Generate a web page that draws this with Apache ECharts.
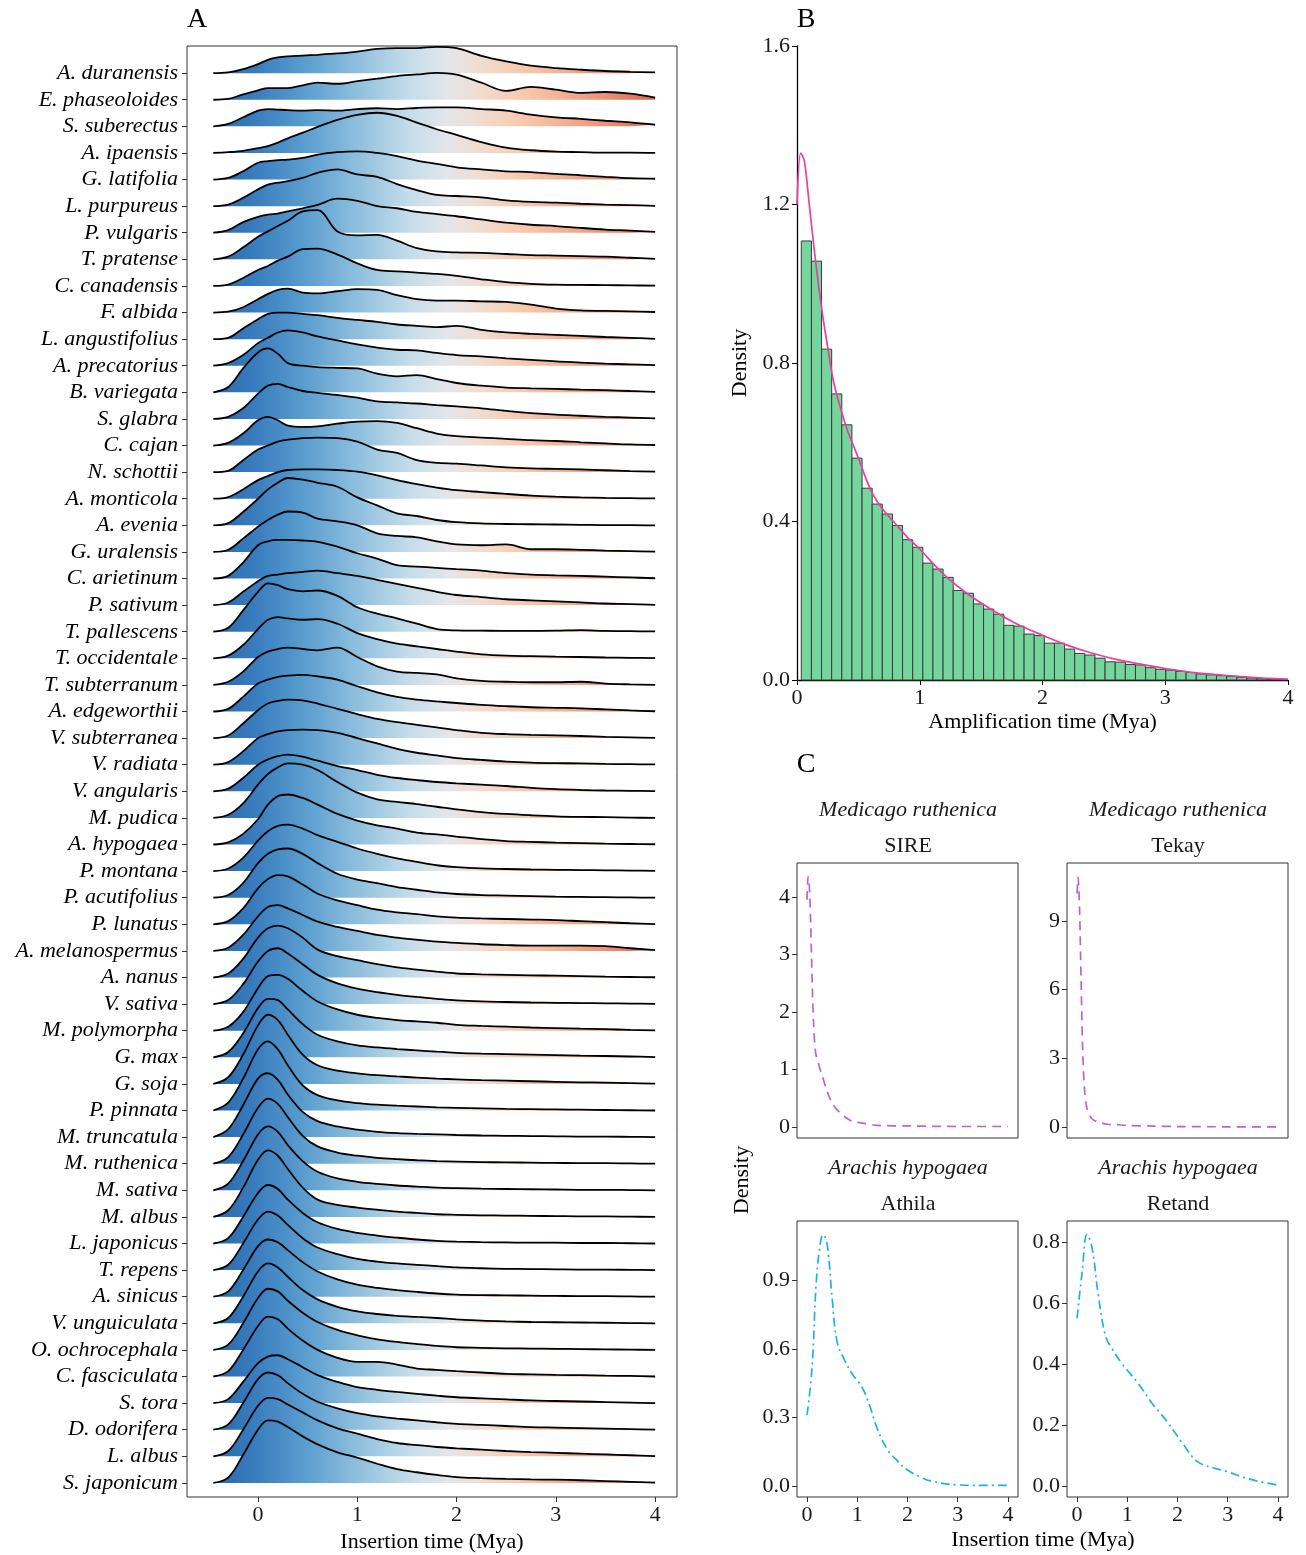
<!DOCTYPE html>
<html>
<head>
<meta charset="utf-8">
<script src="https://cdn.jsdelivr.net/npm/echarts@6/dist/echarts.min.js"></script>
<style>
html,body{margin:0;padding:0;background:#fff}
#main{width:1306px;height:1555px}
</style>
</head>
<body>
<div id="main"></div>
<script>
var FONT = '"Liberation Serif","DejaVu Serif",serif';

// ---- panel A : ridgeline data (top row first) ----
var species = ['A. duranensis','E. phaseoloides','S. suberectus','A. ipaensis','G. latifolia','L. purpureus',
  'P. vulgaris','T. pratense','C. canadensis','F. albida','L. angustifolius','A. precatorius','B. variegata',
  'S. glabra','C. cajan','N. schottii','A. monticola','A. evenia','G. uralensis','C. arietinum','P. sativum',
  'T. pallescens','T. occidentale','T. subterranum','A. edgeworthii','V. subterranea','V. radiata',
  'V. angularis','M. pudica','A. hypogaea','P. montana','P. acutifolius','P. lunatus','A. melanospermus',
  'A. nanus','V. sativa','M. polymorpha','G. max','G. soja','P. pinnata','M. truncatula','M. ruthenica',
  'M. sativa','M. albus','L. japonicus','T. repens','A. sinicus','V. unguiculata','O. ochrocephala',
  'C. fasciculata','S. tora','D. odorifera','L. albus','S. japonicum'];

var ridgeX = [-0.45,-0.3,-0.15,0,0.1,0.2,0.3,0.45,0.6,0.8,1,1.2,1.4,1.6,1.8,2,2.25,2.5,2.75,3,3.25,3.5,3.75,4];

// scaled density (in rows) at ridgeX, one line per species
var ridgeH = [
  [0,0.03,0.15,0.34,0.5,0.59,0.63,0.66,0.69,0.74,0.81,0.91,0.94,0.94,0.99,0.94,0.65,0.44,0.28,0.19,0.13,0.08,0.05,0.03],
  [0,0.03,0.2,0.35,0.44,0.44,0.44,0.54,0.64,0.6,0.7,0.79,0.89,0.95,1.01,0.94,0.64,0.33,0.48,0.38,0.26,0.29,0.23,0.08],
  [0,0.09,0.34,0.59,0.65,0.63,0.61,0.59,0.61,0.59,0.65,0.68,0.65,0.69,0.71,0.71,0.65,0.59,0.44,0.34,0.28,0.21,0.15,0.06],
  [0,0.03,0.08,0.18,0.26,0.39,0.55,0.76,0.98,1.24,1.43,1.51,1.39,1.14,0.89,0.68,0.41,0.2,0.1,0.05,0.03,0.01,0.01,0],
  [0,0.06,0.31,0.63,0.69,0.73,0.75,0.81,0.94,1.03,1.06,1.0,0.88,0.71,0.59,0.46,0.38,0.31,0.28,0.21,0.16,0.1,0.05,0.03],
  [0,0.06,0.31,0.63,0.81,0.88,0.94,1.06,1.25,1.38,1.19,1.1,0.83,0.6,0.42,0.38,0.33,0.22,0.16,0.13,0.09,0.06,0.04,0.01],
  [0,0.1,0.4,0.6,0.68,0.72,0.8,0.92,1.05,1.28,1.2,1.0,0.92,0.78,0.7,0.62,0.5,0.38,0.3,0.25,0.18,0.12,0.08,0.03],
  [0,0.1,0.45,0.85,1.05,1.25,1.45,1.8,1.85,1.05,0.9,0.92,0.7,0.42,0.3,0.26,0.24,0.2,0.16,0.14,0.12,0.1,0.06,0.02],
  [0,0.05,0.3,0.6,0.75,0.95,1.1,1.38,1.4,1.18,0.85,0.6,0.55,0.5,0.45,0.38,0.25,0.14,0.08,0.05,0.04,0.03,0.02,0.01],
  [0,0.03,0.2,0.5,0.7,0.85,0.9,0.75,0.72,0.8,0.88,0.85,0.65,0.5,0.45,0.45,0.42,0.4,0.3,0.15,0.08,0.06,0.04,0.02],
  [0,0.05,0.4,0.75,0.95,1.0,1.0,0.95,0.9,0.8,0.72,0.65,0.55,0.5,0.45,0.5,0.35,0.25,0.2,0.16,0.12,0.08,0.05,0.01],
  [0,0.1,0.4,0.85,1.05,1.25,1.33,1.25,1.1,0.95,0.8,0.68,0.6,0.58,0.48,0.4,0.35,0.28,0.22,0.16,0.12,0.08,0.05,0.02],
  [0,0.2,0.9,1.5,1.65,1.45,1.1,1.0,0.95,0.92,0.9,0.7,0.6,0.65,0.5,0.35,0.25,0.18,0.15,0.13,0.1,0.08,0.05,0.02],
  [0,0.08,0.4,0.95,1.25,1.32,1.2,1.05,0.98,0.9,0.8,0.66,0.62,0.58,0.52,0.47,0.4,0.3,0.22,0.16,0.12,0.08,0.05,0.02],
  [0,0.1,0.45,0.95,1.08,0.95,0.75,0.7,0.72,0.82,0.9,0.92,0.85,0.65,0.45,0.35,0.3,0.25,0.2,0.17,0.12,0.08,0.04,0.02],
  [0,0.05,0.45,0.85,1.0,1.15,1.22,1.28,1.3,1.28,1.15,0.85,0.72,0.45,0.35,0.32,0.25,0.18,0.14,0.12,0.1,0.07,0.04,0.02],
  [0,0.06,0.35,0.7,0.85,1.0,1.08,1.1,1.1,1.08,1.02,0.88,0.7,0.55,0.42,0.32,0.25,0.18,0.12,0.08,0.05,0.03,0.02,0.01],
  [0,0.08,0.5,1.0,1.35,1.6,1.78,1.72,1.6,1.45,1.05,0.75,0.45,0.35,0.2,0.12,0.07,0.05,0.04,0.03,0.02,0.01,0.01,0],
  [0,0.08,0.5,0.95,1.2,1.4,1.52,1.48,1.25,1.15,1.0,0.7,0.6,0.55,0.4,0.28,0.25,0.28,0.1,0.1,0.08,0.05,0.03,0.01],
  [0,0.1,0.6,1.25,1.4,1.45,1.45,1.43,1.38,1.2,0.95,0.75,0.5,0.45,0.4,0.35,0.3,0.2,0.15,0.12,0.1,0.07,0.04,0.01],
  [0,0.1,0.5,0.9,1.1,1.15,1.2,1.25,1.3,1.2,1.1,0.95,0.8,0.65,0.5,0.38,0.3,0.22,0.18,0.14,0.1,0.06,0.04,0.01],
  [0,0.15,0.8,1.5,1.82,1.75,1.6,1.52,1.55,1.35,0.92,0.68,0.5,0.3,0.1,0.05,0.04,0.03,0.03,0.04,0.06,0.03,0.02,0.01],
  [0,0.1,0.5,1.1,1.45,1.55,1.5,1.45,1.47,1.3,0.95,0.72,0.55,0.45,0.35,0.25,0.15,0.1,0.08,0.06,0.05,0.03,0.02,0.01],
  [0,0.12,0.5,1.05,1.25,1.35,1.4,1.35,1.3,1.4,1.05,0.7,0.5,0.45,0.4,0.25,0.15,0.12,0.1,0.1,0.12,0.05,0.02,0],
  [0,0.1,0.55,1.05,1.2,1.3,1.35,1.38,1.32,1.2,0.95,0.72,0.55,0.45,0.38,0.32,0.25,0.2,0.16,0.14,0.12,0.08,0.04,0.01],
  [0,0.1,0.55,1.05,1.3,1.4,1.45,1.42,1.3,1.1,0.9,0.72,0.6,0.5,0.4,0.3,0.2,0.15,0.12,0.1,0.08,0.05,0.03,0.01],
  [0,0.1,0.5,1.0,1.15,1.25,1.3,1.32,1.3,1.2,1.0,0.8,0.6,0.45,0.35,0.25,0.18,0.12,0.08,0.06,0.05,0.03,0.02,0.01],
  [0,0.1,0.5,1.0,1.2,1.32,1.38,1.3,1.15,0.95,0.8,0.62,0.5,0.42,0.35,0.3,0.25,0.2,0.13,0.08,0.05,0.03,0.02,0.01],
  [0,0.12,0.55,1.25,1.65,1.9,2.05,2.0,1.8,1.35,0.95,0.7,0.6,0.52,0.42,0.32,0.22,0.15,0.1,0.06,0.04,0.03,0.01,0],
  [0,0.08,0.4,0.95,1.5,1.82,1.88,1.75,1.5,1.15,0.9,0.72,0.6,0.45,0.38,0.3,0.2,0.13,0.1,0.07,0.05,0.03,0.02,0.01],
  [0,0.1,0.5,1.15,1.5,1.7,1.75,1.6,1.35,1.1,0.85,0.65,0.48,0.35,0.22,0.15,0.1,0.08,0.06,0.05,0.04,0.03,0.02,0.01],
  [0,0.1,0.55,1.3,1.65,1.82,1.85,1.65,1.3,0.9,0.68,0.55,0.4,0.3,0.2,0.14,0.1,0.08,0.06,0.04,0.03,0.02,0.01,0],
  [0,0.12,0.6,1.35,1.7,1.85,1.8,1.5,1.15,0.9,0.72,0.55,0.45,0.38,0.3,0.25,0.22,0.2,0.18,0.16,0.12,0.08,0.04,0.01],
  [0,0.12,0.6,1.3,1.65,1.72,1.6,1.35,1.1,0.9,0.75,0.6,0.5,0.42,0.35,0.3,0.25,0.22,0.2,0.2,0.2,0.18,0.1,0.03],
  [0,0.15,0.7,1.5,1.85,1.95,1.85,1.5,1.05,0.8,0.65,0.5,0.38,0.3,0.22,0.15,0.12,0.1,0.08,0.07,0.05,0.03,0.02,0.01],
  [0,0.15,0.75,1.6,2.0,2.1,1.9,1.5,1.1,0.78,0.58,0.45,0.35,0.27,0.2,0.14,0.1,0.08,0.06,0.05,0.04,0.03,0.02,0.01],
  [0,0.15,0.7,1.6,2.05,2.1,1.95,1.5,1.1,0.8,0.6,0.48,0.4,0.35,0.3,0.22,0.18,0.15,0.12,0.1,0.08,0.06,0.03,0.01],
  [0,0.2,0.9,1.85,2.2,2.15,1.8,1.25,0.85,0.6,0.45,0.37,0.31,0.26,0.21,0.17,0.14,0.12,0.1,0.08,0.06,0.05,0.03,0.01],
  [0,0.25,1.1,2.2,2.6,2.4,1.85,1.1,0.7,0.5,0.4,0.33,0.28,0.24,0.2,0.17,0.14,0.12,0.1,0.08,0.06,0.05,0.03,0.01],
  [0,0.3,1.2,2.3,2.6,2.3,1.7,0.95,0.58,0.38,0.28,0.22,0.18,0.15,0.12,0.1,0.08,0.06,0.05,0.04,0.03,0.02,0.01,0],
  [0,0.3,1.2,2.2,2.4,2.15,1.6,0.95,0.6,0.4,0.28,0.2,0.15,0.12,0.1,0.08,0.06,0.05,0.04,0.03,0.02,0.02,0.01,0],
  [0,0.25,1.1,2.1,2.45,2.25,1.75,1.05,0.65,0.42,0.3,0.22,0.17,0.13,0.1,0.08,0.06,0.05,0.04,0.03,0.02,0.02,0.01,0],
  [0,0.25,1.1,2.1,2.4,2.2,1.7,1.1,0.7,0.45,0.32,0.24,0.18,0.14,0.1,0.08,0.06,0.05,0.04,0.03,0.02,0.02,0.01,0],
  [0,0.25,1.1,2.15,2.5,2.3,1.8,1.1,0.65,0.45,0.35,0.27,0.2,0.15,0.1,0.08,0.06,0.05,0.04,0.03,0.02,0.02,0.01,0],
  [0,0.2,1.0,1.9,2.2,2.05,1.65,1.15,0.8,0.55,0.4,0.3,0.22,0.15,0.1,0.07,0.05,0.04,0.03,0.03,0.02,0.02,0.01,0],
  [0,0.2,1.0,1.9,2.2,2.05,1.7,1.2,0.85,0.6,0.42,0.32,0.25,0.2,0.15,0.1,0.07,0.05,0.04,0.03,0.02,0.02,0.01,0],
  [0,0.2,1.0,1.9,2.15,2.05,1.75,1.3,0.95,0.65,0.45,0.33,0.25,0.18,0.12,0.08,0.06,0.05,0.04,0.03,0.02,0.02,0.01,0],
  [0,0.2,1.0,1.95,2.25,2.1,1.75,1.25,0.9,0.62,0.45,0.35,0.28,0.24,0.2,0.15,0.1,0.07,0.05,0.04,0.03,0.02,0.01,0],
  [0,0.2,1.0,1.95,2.3,2.2,1.85,1.4,1.05,0.75,0.55,0.4,0.3,0.22,0.15,0.1,0.08,0.06,0.05,0.04,0.03,0.02,0.01,0],
  [0,0.2,1.0,1.9,2.25,2.15,1.8,1.35,1.0,0.7,0.55,0.55,0.45,0.3,0.25,0.2,0.15,0.1,0.08,0.06,0.05,0.03,0.02,0],
  [0,0.15,0.8,1.5,1.75,1.8,1.65,1.35,1.05,0.8,0.6,0.5,0.42,0.35,0.28,0.22,0.18,0.14,0.1,0.08,0.06,0.04,0.02,0],
  [0,0.2,1.0,1.9,2.15,2.05,1.75,1.35,1.05,0.8,0.62,0.5,0.42,0.35,0.28,0.22,0.18,0.14,0.1,0.08,0.06,0.04,0.02,0],
  [0,0.2,1.0,1.9,2.2,2.15,1.95,1.65,1.35,1.05,0.85,0.65,0.5,0.42,0.35,0.3,0.25,0.2,0.16,0.13,0.1,0.07,0.04,0.01],
  [0,0.2,1.05,2.0,2.35,2.3,2.1,1.75,1.45,1.15,0.95,0.72,0.52,0.4,0.3,0.22,0.18,0.15,0.13,0.12,0.1,0.07,0.04,0.01]
];

// ---- panel B : histogram + density ----
var histStart = 0.035, histWidth = 0.0825;
var histDensity = [1.108,1.057,0.835,0.722,0.644,0.56,0.484,0.444,0.419,0.39,0.354,0.335,0.295,0.28,0.259,0.226,
  0.219,0.192,0.179,0.166,0.138,0.136,0.116,0.112,0.093,0.093,0.078,0.067,0.063,0.055,0.046,0.045,0.039,0.038,
  0.031,0.027,0.025,0.022,0.019,0.015,0.013,0.011,0.009,0.007,0.005,0.003,0.002,0.001];
var fitX = [0,0.03,0.06,0.1,0.15,0.2,0.25,0.3,0.4,0.5,0.6,0.7,0.8,0.9,1,1.2,1.4,1.6,1.8,2,2.2,2.4,2.6,2.8,3,3.2,3.4,3.6,3.8,4];
var fitY = [1.2,1.33,1.31,1.2,1.06,0.94,0.84,0.75,0.64,0.56,0.48,0.43,0.395,0.36,0.33,0.265,0.215,0.175,0.14,0.113,0.088,0.068,0.052,0.04,0.029,0.02,0.014,0.009,0.005,0.002];

// ---- panel C : four TE families ----
var sireX = [0,0.02,0.04,0.07,0.1,0.13,0.17,0.22,0.3,0.4,0.5,0.6,0.75,0.9,1.1,1.4,2,3,4];
var sireY = [3.95,4.35,4.3,3.6,2.6,1.8,1.3,1.12,0.9,0.62,0.42,0.3,0.18,0.1,0.07,0.03,0.02,0.01,0.01];
var tekayX = [0,0.02,0.05,0.08,0.11,0.15,0.2,0.3,0.45,0.6,0.8,1,1.5,2,3,4];
var tekayY = [10.2,10.9,9.5,6.5,3.5,1.6,0.8,0.35,0.2,0.12,0.1,0.07,0.04,0.02,0.01,0.01];
var athilaX = [0,0.1,0.18,0.25,0.32,0.4,0.5,0.6,0.75,0.9,1.1,1.25,1.4,1.6,1.8,2,2.25,2.5,3,3.5,4];
var athilaY = [0.31,0.52,0.88,1.04,1.1,1.06,0.82,0.63,0.55,0.49,0.43,0.35,0.25,0.16,0.11,0.07,0.04,0.02,0.005,0.003,0.003];
var retandX = [0,0.1,0.2,0.3,0.42,0.57,0.7,0.9,1.2,1.5,1.8,2.1,2.4,2.75,3,3.25,3.6,4];
var retandY = [0.55,0.7,0.825,0.78,0.63,0.49,0.45,0.4,0.34,0.27,0.21,0.14,0.08,0.058,0.047,0.032,0.016,0.003];

function pairs(xs, ys) {
  return xs.map(function (x, k) { return [x, ys[k]]; });
}

var chart = echarts.init(document.getElementById('main'));

// panel A layout
var aLeft = 187, aWidth = 490, aXmin = -0.715, aXmax = 4.22;
function aPx(x) { return aLeft + (x - aXmin) / (aXmax - aXmin) * aWidth; }
var ridgeFill = new echarts.graphic.LinearGradient(aPx(-0.45), 0, aPx(4), 0, [
  { offset: 0, color: '#2a68ab' },
  { offset: 0.10, color: '#3a7ebf' },
  { offset: 0.21, color: '#5b9ecf' },
  { offset: 0.33, color: '#90c0de' },
  { offset: 0.44, color: '#c2dcea' },
  { offset: 0.53, color: '#e3e6ea' },
  { offset: 0.60, color: '#f0ddd2' },
  { offset: 0.69, color: '#f8cbb1' },
  { offset: 0.775, color: '#f4b597' },
  { offset: 0.89, color: '#eb9274' },
  { offset: 1, color: '#d8634e' }
], true);

var nRow = species.length;
var rowIdx = species.map(function (s, i) { return i; });

var series = [];
species.forEach(function (name, i) {
  var base = nRow - 1 - i;
  series.push({
    type: 'line', xAxisIndex: 0, yAxisIndex: 0, name: name,
    data: ridgeX.map(function (x, j) { return [x, base + ridgeH[i][j]]; }),
    smooth: 0.35, showSymbol: false, silent: true,
    lineStyle: { color: '#000', width: 1.8 },
    areaStyle: { color: ridgeFill, opacity: 1, origin: base },
    z: 2 + i
  });
});

// histogram
series.push({
  type: 'custom', xAxisIndex: 1, yAxisIndex: 1, silent: true, z: 2,
  data: histDensity.map(function (d, k) {
    return [histStart + k * histWidth, histStart + (k + 1) * histWidth, d];
  }),
  encode: { x: [0, 1], y: 2 },
  renderItem: function (params, api) {
    var p0 = api.coord([api.value(0), api.value(2)]);
    var p1 = api.coord([api.value(1), 0]);
    return {
      type: 'rect',
      shape: { x: p0[0], y: p0[1], width: p1[0] - p0[0], height: p1[1] - p0[1] },
      style: { fill: '#74d69d', stroke: '#3b3b3b', lineWidth: 1 }
    };
  }
});
series.push({
  type: 'line', xAxisIndex: 1, yAxisIndex: 1, data: pairs(fitX, fitY), smooth: 0.3,
  showSymbol: false, silent: true, lineStyle: { color: '#e8409f', width: 1.7 }, z: 5
});

var purple = '#bb62d8', cyan = '#1fb1e2';
series.push({ type: 'line', xAxisIndex: 2, yAxisIndex: 2, data: pairs(sireX, sireY), smooth: 0.3, showSymbol: false,
  lineStyle: { color: purple, width: 1.7, type: [9, 6] } });
series.push({ type: 'line', xAxisIndex: 3, yAxisIndex: 3, data: pairs(tekayX, tekayY), smooth: 0.3, showSymbol: false,
  lineStyle: { color: purple, width: 1.7, type: [9, 6] } });
series.push({ type: 'line', xAxisIndex: 4, yAxisIndex: 4, data: pairs(athilaX, athilaY), smooth: 0.4, showSymbol: false,
  lineStyle: { color: cyan, width: 1.7, type: [9, 4, 2, 4] } });
series.push({ type: 'line', xAxisIndex: 5, yAxisIndex: 5, data: pairs(retandX, retandY), smooth: 0.4, showSymbol: false,
  lineStyle: { color: cyan, width: 1.7, type: [9, 4, 2, 4] } });

var FS = 22;
var tickFont = { fontFamily: FONT, fontSize: FS, color: '#1a1a1a' };
var nameFont = { fontFamily: FONT, fontSize: FS, color: '#000' };

function cX(gi, showLabels) {
  return {
    type: 'value', gridIndex: gi, min: -0.2, max: 4.2,
    axisLine: { show: false, onZero: false }, splitLine: { show: false },
    axisTick: { show: showLabels, customValues: [0, 1, 2, 3, 4], length: 5, lineStyle: { color: '#333' } },
    axisLabel: Object.assign({ show: showLabels, customValues: [0, 1, 2, 3, 4], margin: 7 }, tickFont)
  };
}
function cY(gi, min, max, ticks, digits) {
  return {
    type: 'value', gridIndex: gi, min: min, max: max,
    axisLine: { show: false, onZero: false }, splitLine: { show: false },
    axisTick: { show: true, customValues: ticks, length: 5, lineStyle: { color: '#333' } },
    axisLabel: Object.assign({ customValues: ticks, margin: 7,
      formatter: function (v) { return v.toFixed(digits); } }, tickFont)
  };
}

function txt(x, y, text, opt) {
  opt = opt || {};
  return {
    type: 'text', x: x, y: y, rotation: opt.rot || 0, silent: true,
    style: {
      text: text, fill: opt.color || '#000',
      font: (opt.italic ? 'italic ' : '') + (opt.size || FS) + 'px ' + FONT,
      textAlign: 'center', textVerticalAlign: 'middle', align: 'center', verticalAlign: 'middle'
    }
  };
}

var option = {
  animation: false,
  backgroundColor: '#fff',
  grid: [
    { left: aLeft, top: 46, width: aWidth, height: 1451, show: true, borderColor: '#333', borderWidth: 1, backgroundColor: 'transparent', containLabel: false, outerBoundsMode: 'none' },
    { left: 797, top: 46, width: 491, height: 634, containLabel: false, outerBoundsMode: 'none' },
    { left: 797, top: 863, width: 221, height: 275, show: true, borderColor: '#333', borderWidth: 1, containLabel: false, outerBoundsMode: 'none' },
    { left: 1067, top: 863, width: 221, height: 275, show: true, borderColor: '#333', borderWidth: 1, containLabel: false, outerBoundsMode: 'none' },
    { left: 797, top: 1221, width: 221, height: 276, show: true, borderColor: '#333', borderWidth: 1, containLabel: false, outerBoundsMode: 'none' },
    { left: 1067, top: 1221, width: 221, height: 276, show: true, borderColor: '#333', borderWidth: 1, containLabel: false, outerBoundsMode: 'none' }
  ],
  xAxis: [
    {
      type: 'value', gridIndex: 0, min: aXmin, max: aXmax,
      axisLine: { show: false, onZero: false }, splitLine: { show: false },
      axisTick: { customValues: [0, 1, 2, 3, 4], length: 5, lineStyle: { color: '#333' } },
      axisLabel: Object.assign({ customValues: [0, 1, 2, 3, 4], margin: 7 }, tickFont),
      name: 'Insertion time (Mya)', nameLocation: 'middle', nameGap: 33, nameTextStyle: nameFont
    },
    {
      type: 'value', gridIndex: 1, min: 0, max: 4, interval: 1,
      axisLine: { show: true, onZero: false, lineStyle: { color: '#000', width: 1.3 } }, splitLine: { show: false },
      axisTick: { length: 5, lineStyle: { color: '#000' } },
      axisLabel: Object.assign({ margin: 7 }, tickFont),
      name: 'Amplification time (Mya)', nameLocation: 'middle', nameGap: 31, nameTextStyle: nameFont
    },
    cX(2, false), cX(3, false), cX(4, true), cX(5, true)
  ],
  yAxis: [
    {
      type: 'value', gridIndex: 0, min: -0.53, max: 54.02,
      axisLine: { show: false, onZero: false }, splitLine: { show: false },
      axisTick: { customValues: rowIdx, length: 5, lineStyle: { color: '#333' } },
      axisLabel: {
        customValues: rowIdx, margin: 9, fontFamily: FONT, fontSize: FS, fontStyle: 'italic', color: '#000',
        formatter: function (v) { return species[nRow - 1 - Math.round(v)]; }
      }
    },
    {
      type: 'value', gridIndex: 1, min: 0, max: 1.6, interval: 0.4,
      axisLine: { show: true, onZero: false, lineStyle: { color: '#000', width: 1.3 } }, splitLine: { show: false },
      axisTick: { length: 5, lineStyle: { color: '#000' } },
      axisLabel: Object.assign({ margin: 7, formatter: function (v) { return v.toFixed(1); } }, tickFont),
      name: 'Density', nameLocation: 'middle', nameGap: 46, nameTextStyle: nameFont
    },
    cY(2, -0.19, 4.59, [0, 1, 2, 3, 4], 0),
    cY(3, -0.48, 11.53, [0, 3, 6, 9], 0),
    cY(4, -0.048, 1.16, [0, 0.3, 0.6, 0.9], 1),
    cY(5, -0.036, 0.869, [0, 0.2, 0.4, 0.6, 0.8], 1)
  ],
  graphic: [
    txt(197, 20, 'A', { size: 28 }),
    txt(806, 20, 'B', { size: 28 }),
    txt(806, 765, 'C', { size: 28 }),
    txt(908, 810, 'Medicago ruthenica', { italic: true, color: '#1a1a1a' }),
    txt(1178, 810, 'Medicago ruthenica', { italic: true, color: '#1a1a1a' }),
    txt(908, 846, 'SIRE', { color: '#1a1a1a' }),
    txt(1178, 846, 'Tekay', { color: '#1a1a1a' }),
    txt(908, 1168, 'Arachis hypogaea', { italic: true, color: '#1a1a1a' }),
    txt(1178, 1168, 'Arachis hypogaea', { italic: true, color: '#1a1a1a' }),
    txt(908, 1204, 'Athila', { color: '#1a1a1a' }),
    txt(1178, 1204, 'Retand', { color: '#1a1a1a' }),
    txt(742, 1180, 'Density', { rot: Math.PI / 2 }),
    txt(1043, 1540, 'Insertion time (Mya)')
  ],
  series: series
};

chart.setOption(option);
</script>
</body>
</html>
